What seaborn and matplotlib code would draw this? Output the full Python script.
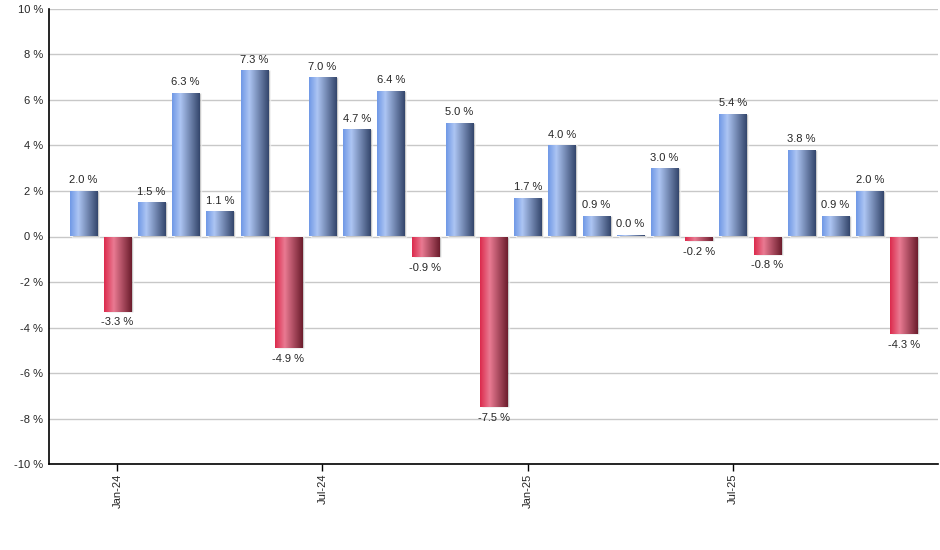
import matplotlib
matplotlib.use("Agg")
import matplotlib.pyplot as plt
from matplotlib.colors import LinearSegmentedColormap
import numpy as np
import pandas as pd
import seaborn as sns

months = ["Dec-23", "Jan-24", "Feb-24", "Mar-24", "Apr-24", "May-24", "Jun-24",
          "Jul-24", "Aug-24", "Sep-24", "Oct-24", "Nov-24", "Dec-24",
          "Jan-25", "Feb-25", "Mar-25", "Apr-25", "May-25", "Jun-25",
          "Jul-25", "Aug-25", "Sep-25", "Oct-25", "Nov-25", "Dec-25"]
returns = [2.0, -3.3, 1.5, 6.3, 1.1, 7.3, -4.9,
           7.0, 4.7, 6.4, -0.9, 5.0, -7.5,
           1.7, 4.0, 0.9, 0.0, 3.0, -0.2,
           5.4, -0.8, 3.8, 0.9, 2.0, -4.3]
shown_ticks = ["Jan-24", "Jul-24", "Jan-25", "Jul-25"]

df = pd.DataFrame({"month": months, "ret": returns})

sns.set_style("white")
plt.rcParams["font.family"] = ["Liberation Sans", "DejaVu Sans"]
plt.rcParams["font.size"] = 8

blue_cmap = LinearSegmentedColormap.from_list(
    "blu", [(0, "#6f98e6"), (0.3, "#adc5f3"), (1.0, "#33456b")])
red_cmap = LinearSegmentedColormap.from_list(
    "red", [(0, "#dc2a4c"), (0.35, "#e97a92"), (1.0, "#6b1c2c")])

fig = plt.figure(figsize=(9.4, 5.5), dpi=100)
ax = fig.add_axes([0.052, 0.156, 0.946, 0.828])

sns.barplot(data=df, x="month", y="ret", ax=ax, width=0.79,
            color="#6f98e6", saturation=1, edgecolor="none", zorder=3)

grad = np.linspace(0, 1, 256).reshape(1, -1)
for p, v in zip(ax.patches, returns):
    if v == 0:
        # flat month still shows as a hairline bar
        p.set_height(0.07)
    x0, y0 = p.get_x(), p.get_y()
    w, h = p.get_width(), p.get_height()
    # thin shadow on the right side
    ax.bar(x0 + w / 2 + 0.06, h, width=w, bottom=y0, color="#9a9a9a",
           alpha=0.6, zorder=2)
    cmap = blue_cmap if v >= 0 else red_cmap
    im = ax.imshow(grad, cmap=cmap, aspect="auto",
                   extent=[x0, x0 + w, min(y0, y0 + h), max(y0, y0 + h)],
                   zorder=3.5)
    im.set_clip_path(p)
    p.set_facecolor("none")
    label = f"{v:.1f} %"
    if v >= 0:
        ax.annotate(label, (x0 + w / 2, y0 + h), xytext=(0, 4),
                    textcoords="offset points", ha="center", va="bottom",
                    fontsize=8)
    else:
        ax.annotate(label, (x0 + w / 2, y0 + h), xytext=(0, -4),
                    textcoords="offset points", ha="center", va="top",
                    fontsize=8)

ax.set_xlim(-1, len(months))
ax.set_ylim(-10, 10)
ax.set_yticks(range(-10, 11, 2))
ax.set_yticklabels([f"{t} %" for t in range(-10, 11, 2)])
ax.yaxis.grid(True, color="#c8c8c8", linewidth=1, zorder=0)
ax.set_axisbelow(True)

pos = [months.index(m) for m in shown_ticks]
ax.set_xticks(pos)
ax.set_xticklabels(shown_ticks, rotation=90)
ax.tick_params(axis="x", bottom=True, length=5, width=1, color="black",
               direction="out", pad=2)
ax.tick_params(axis="y", left=False, length=0, pad=4)
ax.set_xlabel("")
ax.set_ylabel("")

for s in ["top", "right"]:
    ax.spines[s].set_visible(False)
for s in ["left", "bottom"]:
    ax.spines[s].set_color("black")
    ax.spines[s].set_linewidth(1.2)

fig.savefig("out.png", dpi=100)
